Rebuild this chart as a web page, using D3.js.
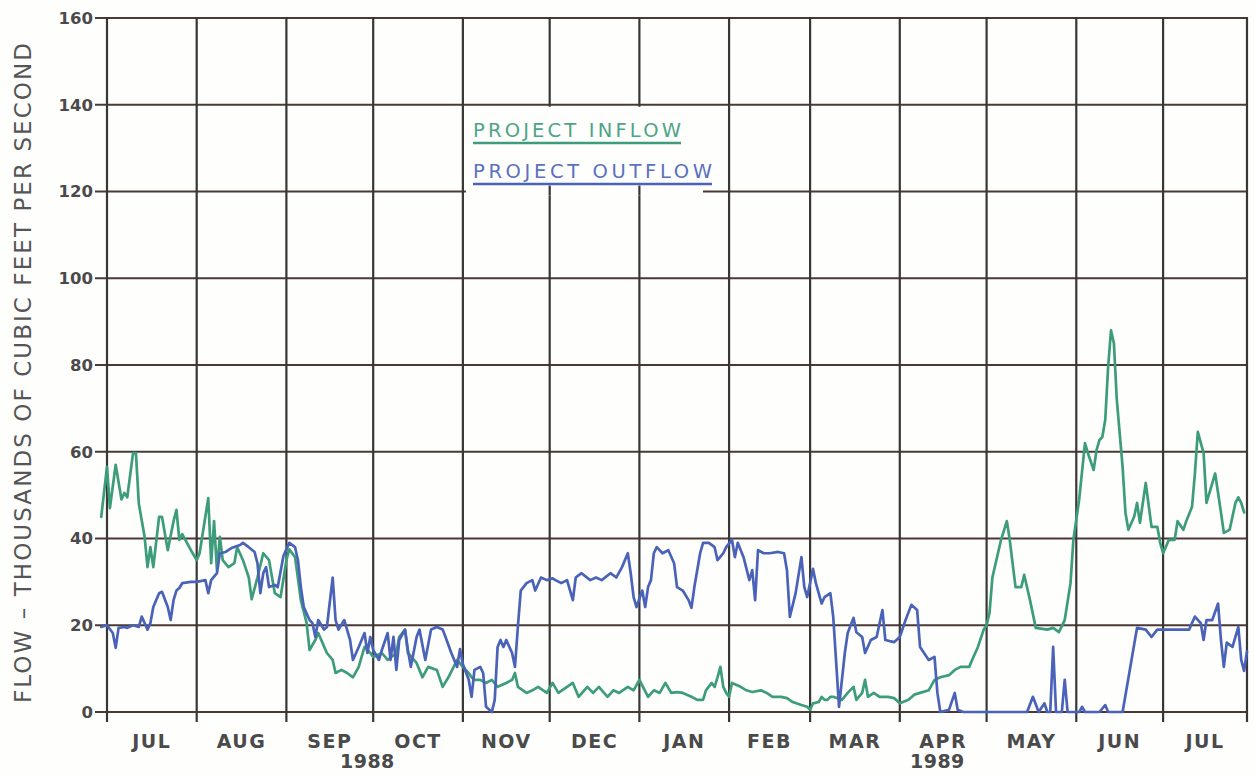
<!DOCTYPE html>
<html>
<head>
<meta charset="utf-8">
<script src="https://cdn.jsdelivr.net/npm/d3@7"></script>
<style>
  html, body { margin: 0; padding: 0; background: #fefefd; }
  svg { display: block; }
</style>
</head>
<body>
<svg id="chart" width="1255" height="777"></svg>
<script>
// ---------------- DATA ----------------
const START = "1988-07-01";
const END = "1989-07-30";
const monthLabels = ["JUL","AUG","SEP","OCT","NOV","DEC","JAN","FEB","MAR","APR","MAY","JUN","JUL"];
const yearLabels = ["1988", "1989"];
const yearLabelDates = ["1988-09-29", "1989-04-14"];
const yTicks = [0, 20, 40, 60, 80, 100, 120, 140, 160];
const yTitle = "FLOW \u2013 THOUSANDS OF CUBIC FEET PER SECOND";
const seriesNames = ["PROJECT INFLOW", "PROJECT OUTFLOW"];

// day offsets from START, flows in thousands of cfs
const inflowDays = [-2,0,1,2,3,5,6,7,9,10,11,13,14,15,16,18,19,21,23,24,25,26,29,31,32,35,36,37,38,39,40,42,44,45,47,49,50,52,54,56,58,60,62,63,65,67,69,70,72,73,76,78,79,81,83,85,87,89,91,92,95,97,100,101,103,104,107,109,111,114,116,118,121,123,125,126,127,129,131,133,135,138,140,141,142,145,147,149,152,154,156,159,161,163,166,168,170,173,175,177,180,182,184,187,189,191,193,195,197,199,202,204,206,207,209,210,211,212,213,214,215,216,219,221,223,226,228,230,233,235,237,240,242,243,244,246,247,248,249,250,251,254,256,258,259,261,262,263,265,267,270,272,274,277,279,281,284,286,288,291,293,295,298,299,301,303,304,305,306,309,311,312,314,316,317,319,321,325,327,329,331,333,334,336,338,339,341,342,343,344,345,346,347,348,349,351,352,353,355,356,357,359,361,363,364,365,367,369,370,372,373,375,376,377,379,380,383,385,386,388,390,391,392,393];
const inflowValues = [45,56.5,47,52,57,49,50.5,49.5,59.7,59.7,48,40.4,33.4,38,33.4,45,45,37.3,44,46.6,39.7,41,37.3,35,36.6,49.3,34.3,44,32.7,40.4,35,33.4,34.3,38,35,31,26,31,36.6,35,27.4,26.5,35,37.5,35.7,25.8,20.5,14.3,16.6,18.2,13.6,12,9,9.7,9,8,10.4,15,13.6,12.7,13.6,12,13.6,17.3,19,13.6,11.3,8,10.4,9.7,5.8,8,12,10.4,9,8,7.4,7.4,6.7,7.4,5.8,6.7,7.4,9,5.8,4.4,5,5.8,4.4,6.7,4.4,5.8,6.7,3.5,5.8,4.4,5.8,3.5,5,4.4,5.8,5,7.4,3.5,5,4.4,6.7,4.4,4.6,4.4,3.5,2.8,2.8,5,6.7,5.8,8,10.4,5.8,4.4,3.5,6.7,5.8,5,4.6,5,4.4,3.5,3.5,3.2,2.3,1.6,1.2,0.5,2,2.3,3.5,2.8,2.8,3.5,3.5,2.8,4.4,5.8,2.8,4.4,7.4,3.5,4.4,3.5,3.5,3.2,2,2.8,4,4.4,5,7.4,8,8.5,9.7,10.4,10.4,12,15,19,20,22.8,31,39.7,44,39.7,28.8,28.8,31.6,25.8,19.4,19,19.4,18.4,21.2,29.7,39.7,49,62,59.7,55.8,60.4,62.7,63.4,67.3,79.5,88,85,72,56.5,45.9,42,45,48.2,43.6,52.8,42.7,42.7,39,36.6,39.7,39.7,44,42,44,47.3,55,64.6,59.7,48.2,55,46,41.3,42,48.2,49.5,48.2,46];

const outflowDays = [-2,0,2,3,4,6,7,9,11,12,14,15,16,18,19,21,22,23,24,25,26,29,31,34,35,36,38,39,41,43,46,47,49,51,52,53,54,55,56,58,59,61,63,65,66,67,68,70,71,72,73,75,76,78,79,80,82,84,85,87,89,90,91,92,94,95,97,98,99,100,101,103,104,105,107,108,110,112,114,116,117,119,121,122,123,125,126,127,129,130,131,133,134,135,136,137,138,140,141,142,143,145,147,148,150,152,154,155,157,159,161,162,164,167,169,171,174,176,178,180,181,182,183,185,186,187,188,189,190,192,194,196,197,199,201,202,203,205,206,208,210,211,213,214,216,217,218,220,222,223,224,225,227,229,232,234,235,236,238,240,241,242,244,245,247,248,250,251,253,255,256,258,259,261,262,264,266,268,269,272,274,276,278,280,281,284,286,287,288,291,293,294,296,318,320,322,324,325,326,327,328,330,331,332,336,337,338,343,345,346,351,356,359,361,363,374,376,378,379,380,382,384,385,386,387,389,391,392,393,394];
const outflowValues = [19.6,20,18.2,14.8,19.4,19.6,19.4,20,19.6,22,19,20.5,24.2,27.4,27.7,24.2,21.2,25.8,28,28.6,29.7,30,30,30.4,27.4,30.4,32,36.6,36.9,37.8,38.5,39,38,36.9,34.3,27.4,32,33.4,28.8,29.3,28.8,36,39,38,35,28.8,24.2,21.2,20.5,17.3,21.2,19,19.6,31,21.2,19,21.2,16.6,12,15,18.2,13.6,17.3,14.3,12,14.3,18.2,12,17.3,9.7,16.6,19,14.3,10.4,17.3,19,12,19,19.6,19,17.3,13.6,10.4,14.5,11,7.5,3.5,9.7,10.4,9,1.2,0,2.8,15,16.6,15,16.6,13.6,10.4,19.6,28,29.7,30.4,28,31,30.4,30.8,30.4,29.7,30.4,25.8,31,32,30.4,31,30.4,32,31,33.4,36.6,32,26.5,24.2,28,24.2,28.8,30.4,36.6,38,36.6,37.3,34.3,28.8,28,25.8,24,28.8,36.6,39,39,38,35,36.6,38,39.7,35.7,39,35.7,30.4,32.7,25.8,37.3,36.6,36.6,36.9,36.6,32.7,21.9,27.4,35.7,28.8,26.5,33,29.7,25,26.5,27.4,21.9,1.2,13.6,18.2,21.7,18.4,17.3,13.6,16.6,17.3,23.5,16.6,16.1,17.3,21.2,24.7,23.5,15,12,12.7,4.4,0,0.5,4.4,0.5,0,0,3.5,0,2,0,0,15,0,0,7.4,0,0,1.2,0,0,1.6,0,0,19.4,19,17.3,19,19,22,20.5,16.6,21.2,21.2,25,16.6,10.4,16,15,19.6,12,9.5,14];

// ---------------- CHART ----------------
const W = 1255, H = 777;
const margin = {left: 107, right: 8, top: 18, bottom: 65};
const svg = d3.select("#chart");
const parse = d3.utcParse("%Y-%m-%d");
const t0 = parse(START), t1 = parse(END);

const x = d3.scaleUtc().domain([t0, t1]).range([margin.left, W - margin.right]);
const y = d3.scaleLinear().domain([0, 160]).range([H - margin.bottom, margin.top]);

const gridColH = "#4a3934";
const gridColV = "#383636";
const green = "#3d9c7b";
const blue = "#4a63b8";
const textCol = "#4a4a4a";

svg.append("rect").attr("width", W).attr("height", H).attr("fill", "#fefefd");

// horizontal grid + y ticks
svg.append("g").selectAll("line").data(yTicks).join("line")
  .attr("x1", margin.left - 12).attr("x2", x(t1))
  .attr("y1", d => y(d)).attr("y2", d => y(d))
  .attr("stroke", gridColH).attr("stroke-width", 2.2);

// vertical grid (month boundaries + right edge)
const monthStarts = d3.utcMonth.range(t0, t1);
const vLines = monthStarts.concat([t1]);
svg.append("g").selectAll("line").data(vLines).join("line")
  .attr("x1", d => x(d)).attr("x2", d => x(d))
  .attr("y1", y(160) - 1).attr("y2", y(0) + 10)
  .attr("stroke", gridColV).attr("stroke-width", 2.2);

// y tick labels
svg.append("g").selectAll("text").data(yTicks).join("text")
  .attr("x", margin.left - 14).attr("y", d => y(d)).attr("dy", "0.36em")
  .attr("text-anchor", "end")
  .attr("font-family", "DejaVu Sans").attr("font-weight", "bold")
  .attr("font-size", 16.5).attr("fill", textCol)
  .text(d => d);

// month labels
svg.append("g").selectAll("text").data(monthStarts).join("text")
  .attr("x", d => (x(d) + x(d3.min([d3.utcMonth.offset(d, 1), t1]))) / 2)
  .attr("y", H - 29)
  .attr("text-anchor", "middle")
  .attr("font-family", "DejaVu Sans").attr("font-weight", "bold")
  .attr("font-size", 19).attr("letter-spacing", 1.5).attr("fill", textCol)
  .text((d, i) => monthLabels[i]);

// year labels
svg.append("g").selectAll("text").data(yearLabels).join("text")
  .attr("x", (d, i) => x(parse(yearLabelDates[i])))
  .attr("y", H - 9)
  .attr("text-anchor", "middle")
  .attr("font-family", "DejaVu Sans").attr("font-weight", "bold")
  .attr("font-size", 19).attr("letter-spacing", 0.5).attr("fill", textCol)
  .text(d => d);

// y title
svg.append("text")
  .attr("transform", `translate(31,${(margin.top + H - margin.bottom) / 2 + 8}) rotate(-90)`)
  .attr("text-anchor", "middle")
  .attr("font-family", "DejaVu Sans")
  .attr("font-size", 23).attr("fill", "#555")
  .attr("textLength", 660).attr("lengthAdjust", "spacing")
  .text(yTitle);

// series lines
const line = d3.line().x(d => x(d3.utcDay.offset(t0, d[0]))).y(d => y(d[1]));
const inflow = inflowDays.map((d, i) => [d, inflowValues[i]]);
const outflow = outflowDays.map((d, i) => [d, outflowValues[i]]);

svg.append("path").datum(inflow).attr("d", line)
  .attr("fill", "none").attr("stroke", green).attr("stroke-width", 2.7)
  .attr("stroke-linejoin", "round").attr("stroke-linecap", "round");
svg.append("path").datum(outflow).attr("d", line)
  .attr("fill", "none").attr("stroke", blue).attr("stroke-width", 2.7)
  .attr("stroke-linejoin", "round").attr("stroke-linecap", "round");

// legend (white panel over grid)
const legX = x(parse("1988-11-01")) + 3;
svg.append("rect")
  .attr("x", legX).attr("y", y(140) + 2)
  .attr("width", 703 - legX).attr("height", y(120) - y(140) + 2)
  .attr("fill", "#fefefd");
// small grid stubs below the legend
svg.append("g").selectAll("line").data([parse("1988-12-01"), parse("1989-01-01")]).join("line")
  .attr("x1", d => x(d)).attr("x2", d => x(d))
  .attr("y1", y(120) - 6).attr("y2", y(120) + 4)
  .attr("stroke", gridColV).attr("stroke-width", 2.2);

const legend = [
  {name: seriesNames[0], color: green, textColor: "#4fa487", len: 208, base: 137, ul: 143},
  {name: seriesNames[1], color: blue, textColor: "#5b71c0", len: 239, base: 178, ul: 184}
];
legend.forEach(l => {
  svg.append("text")
    .attr("x", 473).attr("y", l.base)
    .attr("font-family", "DejaVu Sans").attr("font-size", 19.5)
    .attr("fill", l.textColor)
    .attr("textLength", l.len).attr("lengthAdjust", "spacing")
    .text(l.name);
  svg.append("line")
    .attr("x1", 473).attr("x2", 473 + l.len)
    .attr("y1", l.ul).attr("y2", l.ul)
    .attr("stroke", l.color).attr("stroke-width", 2.6);
});
</script>
</body>
</html>
